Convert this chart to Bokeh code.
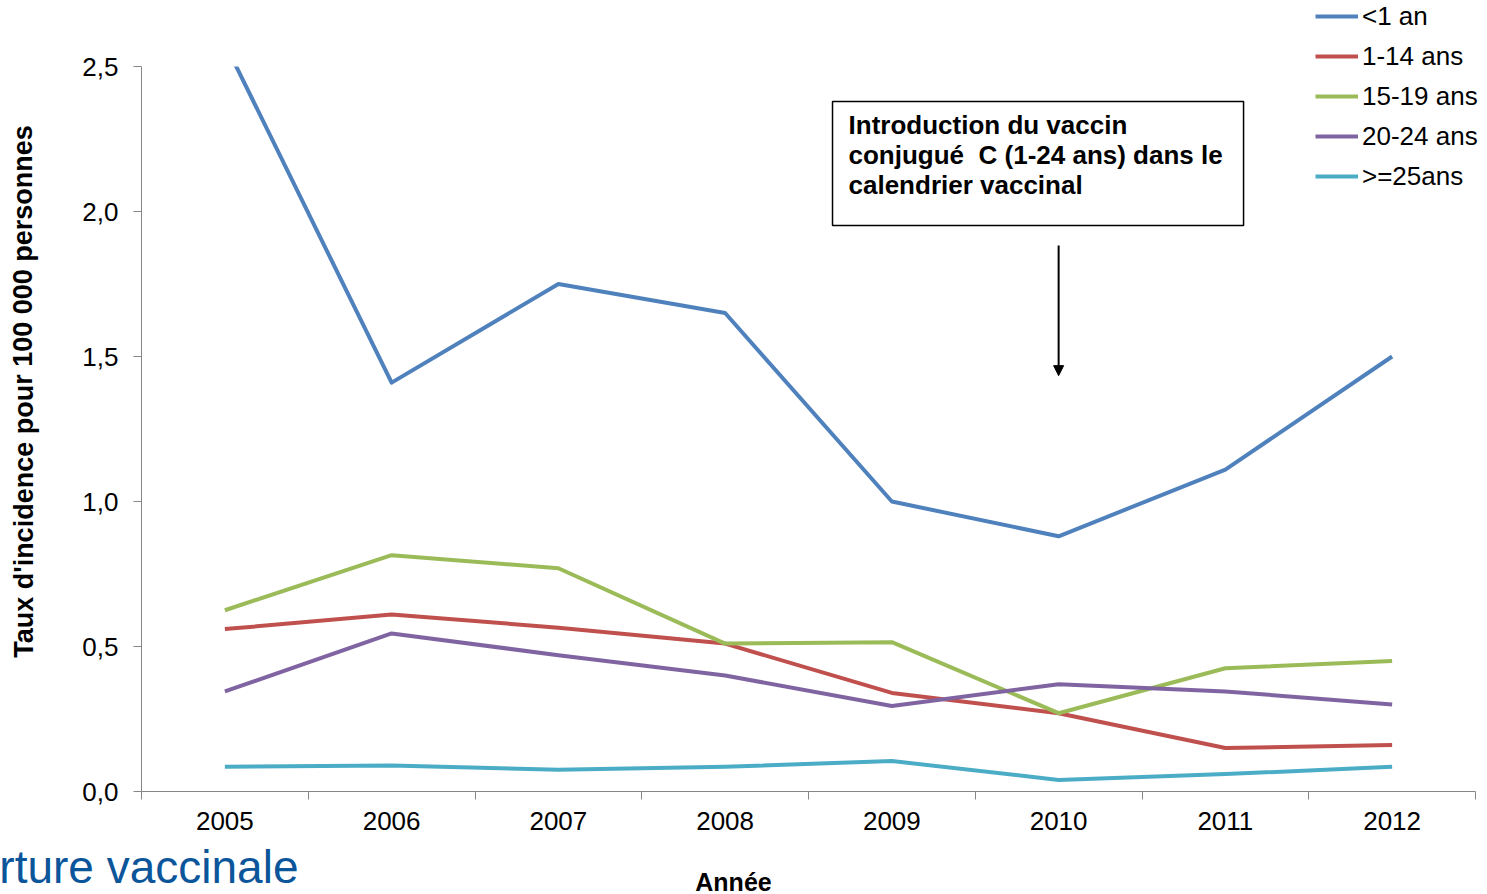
from bokeh.plotting import figure
from bokeh.models import (Range1d, FixedTicker, CustomJSTickFormatter, Legend, LegendItem,
                          Label, BoxAnnotation, Arrow, NormalHead, LinearAxis)
from bokeh.embed import file_html
from bokeh.resources import INLINE

# Incidence rate per 100 000 people, by age group and year
years = ["2005", "2006", "2007", "2008", "2009", "2010", "2011", "2012"]
lt1 = [2.58, 1.41, 1.75, 1.65, 1.00, 0.88, 1.11, 1.50]
a1_14 = [0.56, 0.61, 0.565, 0.51, 0.34, 0.27, 0.15, 0.16]
a15_19 = [0.625, 0.815, 0.77, 0.51, 0.515, 0.27, 0.425, 0.45]
a20_24 = [0.345, 0.545, 0.47, 0.40, 0.295, 0.37, 0.345, 0.30]
a25p = [0.085, 0.09, 0.075, 0.085, 0.105, 0.04, 0.06, 0.085]
series_names = ["<1 an", "1-14 ans", "15-19 ans", "20-24 ans", ">=25ans"]
series_colors = ["#4F81BD", "#C0504D", "#9BBB59", "#8064A2", "#4BACC6"]
y_ticks = [0.0, 0.5, 1.0, 1.5, 2.0, 2.5]

FONT = "Liberation Sans"
AXIS_GREY = "#868686"
FS = "26px"

W, H = 1487, 894
# plotting area inside the page: left/right/top/bottom edges in pixels
AREA_L, AREA_R, AREA_T, AREA_B = 141, 1475, 66, 791
Y_MAX = 2.5
n = len(years)
ux = (AREA_R - AREA_L) / n            # pixels per year
uy = (AREA_B - AREA_T) / Y_MAX        # pixels per unit of rate
x0 = -0.5 - AREA_L / ux
x1 = -0.5 + (W - AREA_L) / ux
y0 = -(H - AREA_B) / uy
y1 = AREA_B / uy

xs = list(range(n))

p = figure(width=W, height=H, output_backend="svg", toolbar_location=None,
           x_range=Range1d(x0, x1), y_range=Range1d(y0, y1),
           x_axis_type=None, y_axis_type=None,
           min_border=0)
p.outline_line_color = None
p.grid.visible = False
p.background_fill_color = "white"
p.border_fill_color = "white"

# x axis: year labels at category centres, ticks between categories
xaxis = LinearAxis(fixed_location=0, bounds=(-0.5, n - 0.5),
                   ticker=FixedTicker(ticks=xs, minor_ticks=[i - 0.5 for i in range(n + 1)]),
                   major_label_overrides={i: y for i, y in enumerate(years)},
                   major_tick_line_color=None,
                   minor_tick_line_color=AXIS_GREY, minor_tick_out=8, minor_tick_in=0,
                   axis_line_color=AXIS_GREY, major_label_standoff=12,
                   major_label_text_font=FONT, major_label_text_font_size=FS,
                   major_label_text_color="black")
p.add_layout(xaxis, "below")

# y axis with comma decimals
yaxis = LinearAxis(fixed_location=-0.5, bounds=(0, Y_MAX),
                   ticker=FixedTicker(ticks=y_ticks),
                   formatter=CustomJSTickFormatter(code="return tick.toFixed(1).replace('.', ',');"),
                   major_tick_line_color=AXIS_GREY, major_tick_out=8, major_tick_in=0,
                   minor_tick_line_color=None, axis_line_color=AXIS_GREY,
                   major_label_standoff=15,
                   major_label_text_font=FONT, major_label_text_font_size=FS,
                   major_label_text_color="black")
p.add_layout(yaxis, "left")

series = [lt1, a1_14, a15_19, a20_24, a25p]
renderers = []
for vals, col in zip(series, series_colors):
    r = p.line(xs, vals, line_color=col, line_width=4, line_join="round")
    renderers.append(r)

# the plotting area ends at Y_MAX: mask anything drawn above it
p.add_layout(BoxAnnotation(left=-0.5, right=n - 0.5, bottom=Y_MAX, top=y1,
                           fill_color="white", fill_alpha=1, line_alpha=0))

legend = Legend(items=[LegendItem(label=s, renderers=[r]) for s, r in zip(series_names, renderers)],
                location=(1315, H - 196), orientation="vertical",
                glyph_width=43, glyph_height=40, label_height=40, label_standoff=4,
                spacing=0, padding=0, margin=0,
                label_text_font=FONT, label_text_font_size=FS, label_text_color="black",
                border_line_color=None, background_fill_alpha=0)
p.add_layout(legend)

# annotation box and arrow for the vaccine introduction
box = BoxAnnotation(left=3.644, right=6.109, top=2.379, bottom=1.952,
                    fill_color="white", fill_alpha=1, line_color="black",
                    line_alpha=1, line_width=1.5)
p.add_layout(box)
note_lines = ["Introduction du vaccin",
              "conjugué \u00a0C (1-24 ans) dans le",
              "calendrier vaccinal"]
for i, t in enumerate(note_lines):
    p.add_layout(Label(x=3.74, y=2.297 - i * 0.1035, text=t, text_font=FONT,
                       text_font_style="bold", text_font_size=FS, text_color="black",
                       text_baseline="middle", text_align="left"))
p.add_layout(Arrow(x_start=years.index("2010"), y_start=1.883,
                   x_end=years.index("2010"), y_end=1.434,
                   line_color="black", line_width=2,
                   end=NormalHead(size=10, fill_color="black", line_color="black")))

# axis titles and the caption at the bottom edge
p.add_layout(Label(x=23, y=391, x_units="canvas", y_units="canvas",
                   text="Taux d'incidence pour 100 000 personnes", angle=1.5708,
                   text_font=FONT, text_font_style="bold", text_font_size="27px",
                   text_align="center", text_baseline="middle", text_color="black"))
p.add_layout(Label(x=733, y=881, x_units="canvas", y_units="canvas",
                   text="Année", text_font=FONT, text_font_style="bold",
                   text_font_size="25px", text_align="center", text_baseline="middle",
                   text_color="black"))
p.add_layout(Label(x=298, y=866, x_units="canvas", y_units="canvas",
                   text="rture vaccinale", text_font=FONT, text_font_size="46px",
                   text_align="right", text_baseline="alphabetic", text_color="#0B559B"))

open("out.html", "w").write(file_html(p, INLINE))
